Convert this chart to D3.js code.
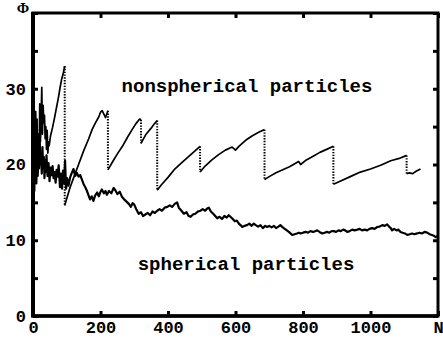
<!DOCTYPE html>
<html>
<head>
<meta charset="utf-8">
<script src="https://cdn.jsdelivr.net/npm/d3@7"></script>
<style>
  body { margin: 0; background: #fff; }
  svg { display: block; }
  .axis path { display: none; }
  .axis line { stroke: #000; stroke-width: 3; }
  .axis text {
    font-family: 'Courier New', 'Liberation Mono', monospace;
    font-weight: bold;
    font-size: 17px;
    fill: #000;
  }
  .curve-label {
    font-family: 'Courier New', 'Liberation Mono', monospace;
    font-weight: bold;
    font-size: 19px;
  }
</style>
</head>
<body>
<div id="chart"></div>
<script>
// nonspherical particles (repeated N = vertical drop)
var nsN = [0, 2, 4, 6, 8, 10, 12, 14, 16, 18, 20, 22, 24, 26, 28, 30, 32, 34, 36, 38, 40, 42, 44, 46, 48,
  52, 58, 64, 70, 76, 80, 85, 89, 94, 94,
  100, 110, 120, 135, 150, 165, 175, 185, 195, 200, 205, 215, 222, 222,
  235, 250, 265, 280, 295, 305, 316, 320, 320,
  335, 350, 360, 368, 368,
  380, 400, 420, 440, 460, 480, 495, 495,
  510, 530, 550, 570, 590, 600, 610, 630, 650, 670, 686, 686,
  700, 720, 740, 760, 787, 793, 810, 830, 850, 870, 890, 890,
  910, 940, 970, 1000, 1030, 1060, 1085, 1107, 1107,
  1115, 1125, 1135, 1148];
var nsPhi = [24, 18, 25, 20, 27, 22, 26, 19, 24, 21, 28, 23, 26, 30.2, 24, 27.8, 25.5, 26.5, 23.4, 25, 22, 24.5, 21.5, 23, 22.5,
  23.8, 24.9, 26.2, 27.6, 29.0, 30.1, 31.3, 31.9, 33.0, 14.6,
  15.5, 17.0, 18.2, 20.0, 21.8, 23.4, 24.6, 25.5, 26.3, 26.9, 27.1, 26.2, 27.1, 19.3,
  20.3, 21.4, 22.4, 23.6, 24.7, 25.4, 26.0, 25.9, 22.8,
  24.0, 24.8, 25.4, 25.8, 16.6,
  17.3, 18.3, 19.4, 20.2, 21.0, 21.8, 22.4, 19.0,
  19.8, 20.6, 21.3, 21.9, 22.3, 21.9, 22.4, 23.2, 23.8, 24.3, 24.6, 18.0,
  18.4, 18.9, 19.3, 19.7, 20.4, 20.0, 20.6, 21.1, 21.6, 22.0, 22.4, 17.4,
  17.8, 18.4, 19.0, 19.4, 19.9, 20.5, 20.8, 21.2, 18.8,
  18.9, 18.8, 19.1, 19.4];

// spherical particles
var spN = [0, 1, 2, 3, 4, 5, 6, 7, 8, 9, 10, 12, 14, 16, 18, 20, 22, 24, 26, 28, 30, 32, 34, 36, 38, 40,
  43, 46, 49, 52, 55, 58, 61, 64, 67, 70, 73, 76, 80, 83, 86, 89, 92, 95, 98, 101, 105,
  110, 115, 120, 125, 130, 135, 140, 145, 150, 155, 159, 164, 169, 174, 179, 184, 190, 195,
  200, 204, 210, 215, 219, 225, 232, 239, 244, 250, 257, 264, 270, 277, 284, 290, 295,
  300, 306, 313, 320, 326, 333, 340, 347, 354, 361, 368, 375, 382, 390, 398,
  405, 412, 420, 427, 432, 438, 447, 455, 461, 467, 474, 481, 489, 496,
  503, 510, 516, 521, 527, 534, 540, 546, 553, 560, 567, 574, 580, 585, 592, 598,
  604, 610, 615, 620, 627, 634, 641, 648, 654, 660, 667, 674, 681, 688, 694,
  700, 707, 714, 720, 727, 733, 740, 746, 752, 758, 763, 768, 775, 782, 788, 793,
  800, 808, 815, 822, 830, 836, 842, 849, 857, 864, 871, 878, 885, 891, 898,
  905, 912, 919, 925, 931, 938, 946, 953, 961, 968, 975, 983, 990, 997,
  1005, 1012, 1020, 1027, 1035, 1042, 1049, 1055, 1060, 1064, 1070, 1077, 1083, 1089, 1095,
  1102, 1109, 1116, 1123, 1130, 1138, 1145, 1152, 1160, 1168, 1175, 1182, 1188, 1193, 1198];
var spPhi = [14, 21, 17, 22.5, 16.5, 20, 18, 23.5, 19, 21, 17.5, 22, 18.5, 21.5, 19.5, 23, 20, 21.5, 18.8, 22.3, 19.5, 21, 18.2, 20.5, 19, 21.2,
  18.5, 20.2, 17.8, 19.6, 18.6, 19.8, 18.2, 19.0, 17.6, 19.3, 18.4, 19.9, 17.0, 18.8, 16.8, 19.2, 17.5, 20.5, 16.8, 18.2, 17.2,
  18.3, 18.9, 19.4, 18.5, 18.9, 18.4, 18.6, 18.0, 17.4, 17.0, 16.6, 16.0, 15.4, 15.8, 15.2, 15.9, 16.3, 15.8,
  16.4, 16.7, 16.2, 16.5, 16.0, 16.5, 16.2, 16.9, 16.6, 16.1, 16.4, 15.7, 15.4, 15.1, 14.8, 14.4, 14.9,
  14.7, 14.1, 13.5, 13.7, 13.2, 13.4, 13.6, 13.3, 13.8, 13.6, 13.9, 14.1, 13.9, 14.3, 14.4,
  14.6, 14.4, 14.8, 15.0, 14.3, 14.0, 13.5, 13.7, 13.2, 13.1, 13.4, 13.5, 13.8, 13.9,
  14.1, 13.9, 14.2, 14.3, 13.8, 13.5, 13.2, 12.9, 13.1, 12.8, 13.2, 13.0, 13.3, 13.1, 12.8, 12.5,
  12.6, 12.2, 12.0, 11.75, 11.9, 12.0, 12.2, 11.9, 12.2, 12.0, 11.8, 12.0, 11.6, 11.9, 11.75,
  11.9, 11.7, 11.9, 11.6, 11.8, 12.0, 11.7, 11.5, 11.3, 11.1, 10.9, 10.7, 10.8, 10.9, 11.0, 10.9,
  11.0, 11.1, 11.0, 11.2, 11.1, 11.2, 11.3, 11.1, 10.9, 11.0, 11.1, 11.0, 11.2, 11.2, 11.1,
  11.3, 11.2, 11.4, 11.3, 11.1, 11.2, 11.4, 11.3, 11.4, 11.5, 11.3, 11.4, 11.3, 11.5,
  11.6, 11.5, 11.75, 11.8, 12.0, 11.9, 12.1, 11.8, 11.6, 11.3, 11.5, 11.3, 11.4, 11.1, 11.0,
  10.9, 10.7, 10.8, 10.9, 10.8, 10.9, 11.0, 10.9, 11.1, 11.0, 10.8, 10.7, 10.6, 10.4, 10.6];

var xTicks = [0, 200, 400, 600, 800, 1000, 1200];
var yTicks = [0, 5, 10, 15, 20, 25, 30, 35, 40];
var yLabels = [0, 10, 20, 30];
var curveNames = ['nonspherical particles', 'spherical particles'];

var margin = {top: 13, right: 5, bottom: 27, left: 33};
var fullWidth = 443;
var fullHeight = 343;
var width = fullWidth - margin.left - margin.right;
var height = fullHeight - margin.top - margin.bottom;

var svg = d3.select('#chart').append('svg')
  .attr('width', fullWidth)
  .attr('height', fullHeight)
  .append('g')
    .attr('transform', 'translate(' + margin.left + ',' + margin.top + ')');

var xScale = d3.scaleLinear().domain([0, 1200]).range([0, width]);
var yScale = d3.scaleLinear().domain([0, 40]).range([height, 0]);

// inward ticks on all four sides
svg.append('g')
  .attr('class', 'axis')
  .attr('transform', 'translate(0,' + height + ')')
  .call(d3.axisBottom(xScale).tickValues(xTicks).tickSizeInner(-5).tickSizeOuter(0).tickPadding(5)
    .tickFormat(function(d) { return d === 1200 ? 'N' : d; }));

svg.append('g')
  .attr('class', 'axis')
  .call(d3.axisTop(xScale).tickValues(xTicks).tickSizeInner(-5).tickSizeOuter(0).tickFormat(''));

svg.append('g')
  .attr('class', 'axis')
  .call(d3.axisLeft(yScale).tickValues(yTicks).tickSizeInner(-5).tickSizeOuter(0).tickPadding(7)
    .tickFormat(function(d) { return yLabels.indexOf(d) >= 0 ? d : ''; }));

svg.append('g')
  .attr('class', 'axis')
  .attr('transform', 'translate(' + width + ',0)')
  .call(d3.axisRight(yScale).tickValues(yTicks).tickSizeInner(-5).tickSizeOuter(0).tickFormat(''));

// frame
svg.append('rect')
  .attr('x', 0)
  .attr('y', 0)
  .attr('width', width)
  .attr('height', height)
  .style('fill', 'none')
  .style('stroke', '#000')
  .style('stroke-width', 3);
svg.append('line')
  .attr('x1', 0).attr('x2', 0)
  .attr('y1', -1).attr('y2', height + 1.5)
  .style('stroke', '#000')
  .style('stroke-width', 4);
svg.append('line')
  .attr('x1', 0).attr('x2', width)
  .attr('y1', height).attr('y2', height)
  .style('stroke', '#000')
  .style('stroke-width', 3.5);

svg.append('text')
  .attr('x', -10)
  .attr('y', 0)
  .style('text-anchor', 'middle')
  .style('font-family', "'Liberation Serif', 'DejaVu Serif', serif")
  .style('font-weight', 'bold')
  .style('font-size', '15px')
  .text('\u03A6');

var line = d3.line()
  .x(function(d) { return xScale(d[0]); })
  .y(function(d) { return yScale(d[1]); });

// spherical
svg.append('path')
  .datum(d3.zip(spN, spPhi))
  .attr('d', line)
  .style('fill', 'none')
  .style('stroke', '#000')
  .style('stroke-width', 2.2)
  .style('stroke-linejoin', 'round');

// nonspherical: rises solid, drops dotted
var pts = d3.zip(nsN, nsPhi);
var runs = [[pts[0]]];
var drops = [];
for (var i = 1; i < pts.length; i++) {
  if (pts[i][0] === pts[i - 1][0]) {
    drops.push([pts[i - 1], pts[i]]);
    runs.push([pts[i]]);
  } else {
    runs[runs.length - 1].push(pts[i]);
  }
}

svg.selectAll('path.ns-run').data(runs).enter()
  .append('path')
  .classed('ns-run', true)
  .attr('d', line)
  .style('fill', 'none')
  .style('stroke', '#000')
  .style('stroke-width', 1.7)
  .style('stroke-linejoin', 'round');

svg.selectAll('path.ns-drop').data(drops).enter()
  .append('path')
  .classed('ns-drop', true)
  .attr('d', line)
  .style('fill', 'none')
  .style('stroke', '#000')
  .style('stroke-width', 2)
  .style('stroke-dasharray', '1.4,1.4');

svg.append('text')
  .attr('class', 'curve-label')
  .attr('x', 214)
  .attr('y', 79)
  .style('text-anchor', 'middle')
  .text(curveNames[0]);

svg.append('text')
  .attr('class', 'curve-label')
  .attr('x', 213)
  .attr('y', 257)
  .style('text-anchor', 'middle')
  .text(curveNames[1]);
</script>
</body>
</html>
